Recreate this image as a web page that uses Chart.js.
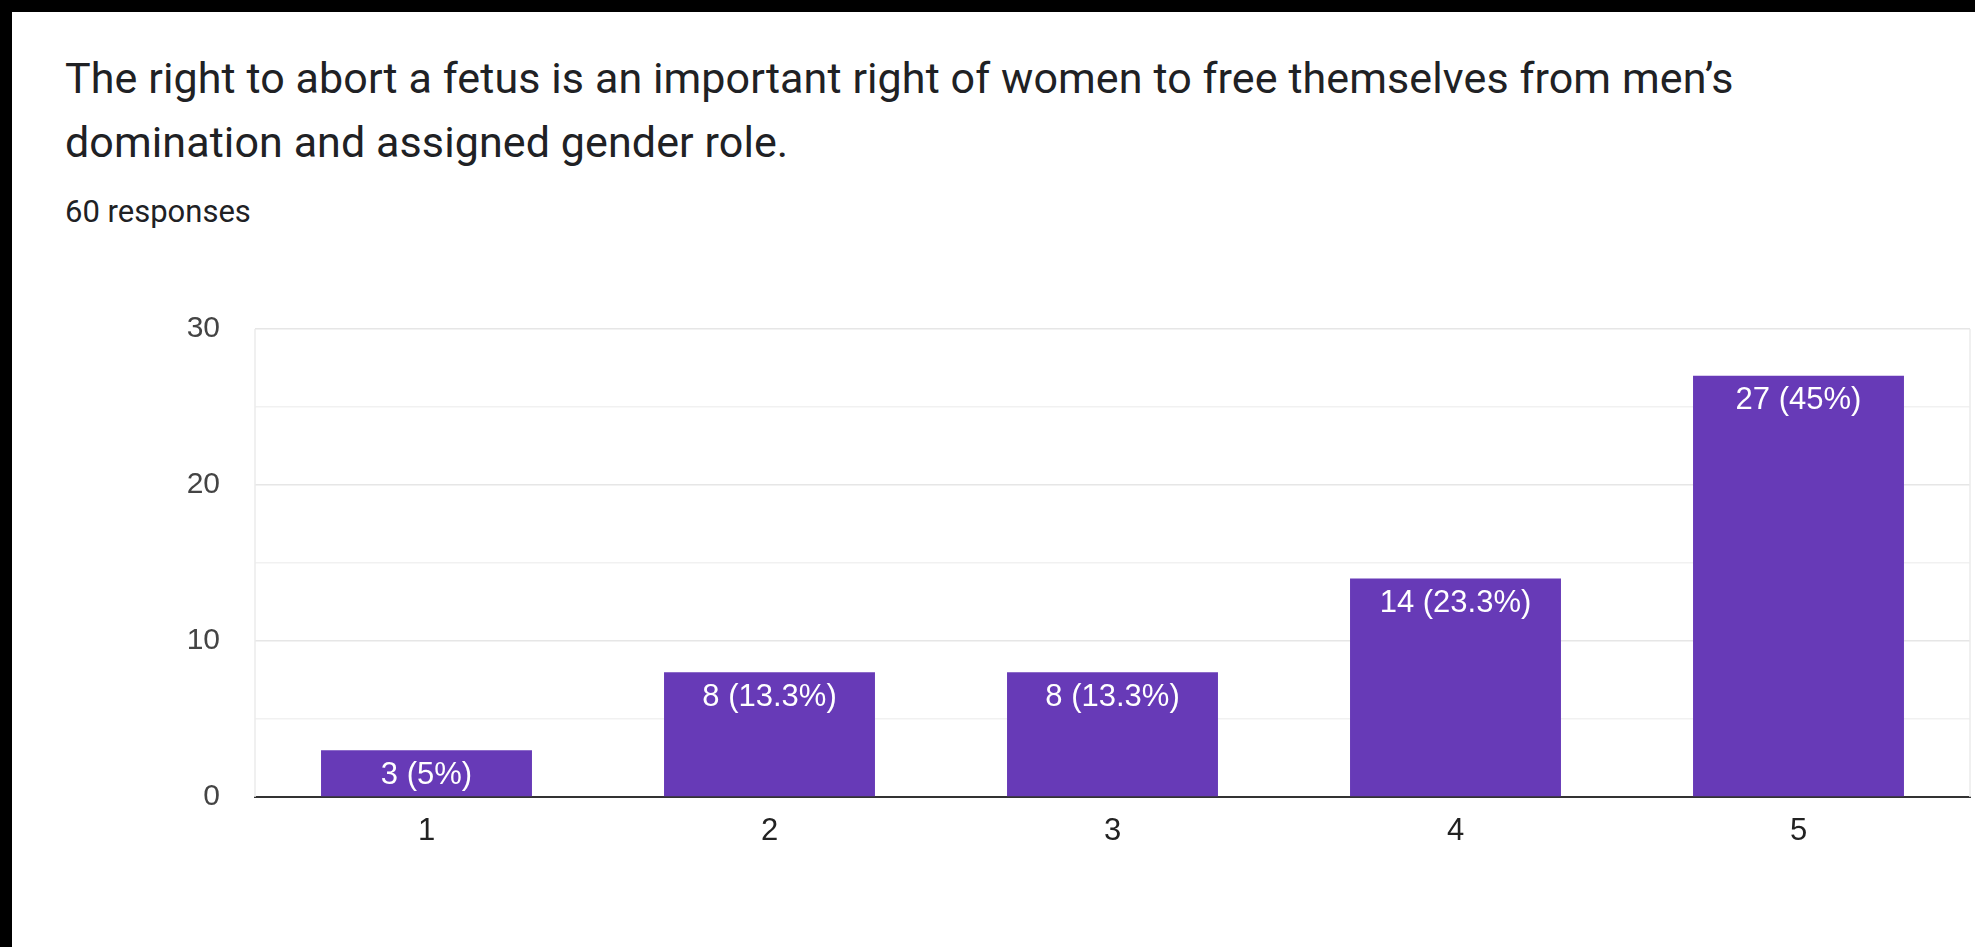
<!DOCTYPE html>
<html>
<head>
<meta charset="utf-8">
<title>Responses</title>
<script src="https://cdn.jsdelivr.net/npm/chart.js@4.4.1/dist/chart.umd.min.js"></script>
<style>
    html, body { margin: 0; padding: 0; background: #000; overflow: hidden; }
    #card {
        position: absolute; left: 12px; top: 12px;
        width: 1963px; height: 935px; background: #fff;
    }
    .question {
        position: absolute; left: 53px; top: 34px;
        font-family: Roboto, sans-serif; font-size: 43px; line-height: 64px;
        letter-spacing: 0.1px;
        color: #202124; white-space: nowrap;
    }
    .count {
        position: absolute; left: 53px; top: 180px;
        font-family: Roboto, sans-serif; font-size: 31px; line-height: 40px;
        color: #202124;
    }
    #chart-wrap { position: absolute; left: 0; top: 0; width: 1963px; height: 935px; }
</style>
</head>
<body>
<div id="card">
    <div class="question">The right to abort a fetus is an important right of women to free themselves from men’s<br>domination and assigned gender role.</div>
    <div class="count">60 responses</div>
    <div id="chart-wrap"><canvas id="chart-answers"></canvas></div>
</div>

<script>
// Linear scale answers 1..5
const answerLabels = ["1", "2", "3", "4", "5"];
const answerCounts = [3, 8, 8, 14, 27];
const totalResponses = 60;
const yTicks = [0, 10, 20, 30];

const BAR_COLOR = "#673ab7";

// Etiqueta "n (p%)" dentro de cada barra
const barValueLabels = {
    id: "barValueLabels",
    afterDatasetsDraw(chart) {
        const ctx = chart.ctx;
        const meta = chart.getDatasetMeta(0);
        ctx.save();
        ctx.font = "31px 'Liberation Sans', Arial, sans-serif";
        ctx.fillStyle = "#ffffff";
        ctx.textAlign = "center";
        ctx.textBaseline = "middle";
        meta.data.forEach((bar, i) => {
            const v = answerCounts[i];
            const pct = Math.round(v / totalResponses * 1000) / 10;
            ctx.fillText(`${v} (${pct}%)`, bar.x, bar.y + 25);
        });
        ctx.restore();
    }
};

// Borde fino alrededor del área del gráfico
const plotFrame = {
    id: "plotFrame",
    beforeDatasetsDraw(chart) {
        const { ctx, chartArea: a } = chart;
        ctx.save();
        ctx.strokeStyle = "#ececec";
        ctx.lineWidth = 1.5;
        ctx.beginPath();
        ctx.moveTo(a.left, a.bottom);
        ctx.lineTo(a.left, a.top);
        ctx.moveTo(a.right, a.top);
        ctx.lineTo(a.right, a.bottom);
        ctx.stroke();
        ctx.restore();
    }
};

const ctx = document.getElementById("chart-answers").getContext("2d");

new Chart(ctx, {
    type: "bar",
    data: {
        labels: answerLabels,
        datasets: [{
            data: answerCounts,
            backgroundColor: BAR_COLOR,
            borderWidth: 0,
            barPercentage: 0.615,
            categoryPercentage: 1
        }]
    },
    options: {
        responsive: true,
        maintainAspectRatio: false,
        animation: false,
        layout: { padding: { left: 0, top: 317, right: 5, bottom: 0 } },
        plugins: {
            legend: { display: false },
            tooltip: { enabled: false }
        },
        scales: {
            x: {
                grid: { display: false, drawTicks: false },
                border: { color: "#333333", width: 2 },
                ticks: {
                    color: "#222222",
                    padding: 16,
                    font: { family: "'Liberation Sans', Arial, sans-serif", size: 31 }
                },
                afterFit(scale) { scale.height = 150; }
            },
            y: {
                min: 0,
                max: 30,
                grid: {
                    drawTicks: false,
                    lineWidth: 1.5,
                    color: c => (c.tick && c.tick.value % 10 === 0) ? "#e6e6e6" : "#f1f1f1"
                },
                border: { display: false },
                ticks: {
                    stepSize: 5,
                    padding: 35,
                    color: "#444444",
                    font: { family: "'Liberation Sans', Arial, sans-serif", size: 30 },
                    callback: v => yTicks.includes(v) ? v : ""
                },
                afterFit(scale) { scale.width = 243; }
            }
        }
    },
    plugins: [plotFrame, barValueLabels]
});
</script>
</body>
</html>
